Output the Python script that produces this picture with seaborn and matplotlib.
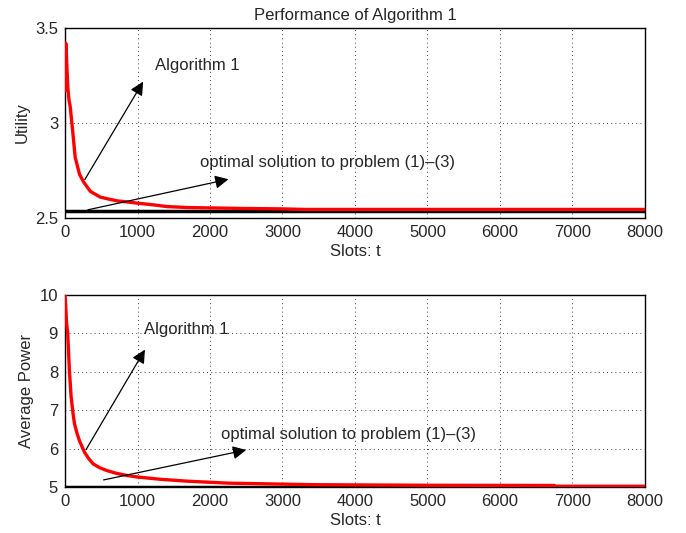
import numpy as np
import pandas as pd
import seaborn as sns
import matplotlib.pyplot as plt

# values
t_util = [0, 5, 10, 15, 25, 40, 55, 70, 100, 140, 200, 255, 350, 485, 600, 720, 850, 1000,
          1200, 1410, 1700, 2000, 2500, 3000, 3300, 4000, 5000, 6000, 7000, 8000]
utility = [3.17, 3.30, 3.42, 3.40, 3.30, 3.18, 3.12, 3.09, 2.98, 2.82, 2.73, 2.69, 2.64,
           2.61, 2.60, 2.59, 2.585, 2.578, 2.57, 2.56, 2.555, 2.553, 2.55, 2.548, 2.545,
           2.545, 2.545, 2.545, 2.545, 2.545]
opt_util = 2.535

t_pow = [0, 10, 20, 37, 60, 84, 105, 130, 165, 200, 270, 330, 390, 480, 575, 700, 855, 1000,
         1320, 1700, 2260, 3430, 5000, 6750, 6760, 8000]
power = [10.0, 9.7, 9.3, 9.0, 8.04, 7.35, 7.0, 6.65, 6.4, 6.2, 5.9, 5.73, 5.6, 5.5, 5.43,
         5.36, 5.3, 5.26, 5.2, 5.15, 5.1, 5.06, 5.045, 5.04, 5.02, 5.02]
opt_pow = 5.0

x_ticks = [0, 1000, 2000, 3000, 4000, 5000, 6000, 7000, 8000]

sns.set_style("white")
plt.rcParams['font.family'] = ['Liberation Sans', 'DejaVu Sans']
plt.rcParams['font.size'] = 12

fig = plt.figure(figsize=(6.86, 5.33), dpi=100)
ax1 = fig.add_axes([0.0948, 0.591, 0.8452, 0.3565])
ax2 = fig.add_axes([0.0948, 0.0863, 0.8452, 0.3602])

df1 = pd.DataFrame({"t": t_util, "u": utility})
df2 = pd.DataFrame({"t": t_pow, "p": power})

arrow = dict(arrowstyle='-|>', color='black', lw=0.9, mutation_scale=20)


def style(ax, yticks, ylim):
    ax.set_xlim(0, 8000)
    ax.set_ylim(*ylim)
    ax.set_xticks(x_ticks)
    ax.set_yticks(yticks)
    ax.grid(True, color='black', linestyle=(0, (1, 4)), linewidth=0.6)
    ax.tick_params(direction='in', length=4, color='black', labelsize=12, pad=5)
    for s in ax.spines.values():
        s.set_color('black')
        s.set_linewidth(1.0)
    ax.set_xlabel("Slots: t", fontsize=12, labelpad=3)


# top panel
ax1.axhline(opt_util, color='black', linewidth=2.5, zorder=2)
sns.lineplot(data=df1, x="t", y="u", ax=ax1, color='red', linewidth=2.4, zorder=3)
style(ax1, [2.5, 3, 3.5], (2.5, 3.5))
ax1.set_yticklabels(["2.5", "3", "3.5"])
ax1.set_ylabel("Utility", fontsize=12)
ax1.set_title("Performance of Algorithm 1", fontsize=12, pad=6)
ax1.annotate("", xy=(1097, 3.23), xytext=(254, 2.69), arrowprops=arrow)
ax1.text(1236, 3.30, "Algorithm 1", fontsize=12, va='center')
ax1.annotate("", xy=(2292, 2.707), xytext=(278, 2.54), arrowprops=arrow)
ax1.text(1861, 2.79, "optimal solution to problem (1)–(3)", fontsize=12, va='center')

# bottom panel
ax2.axhline(opt_pow, color='black', linewidth=2.5, zorder=2)
sns.lineplot(data=df2, x="t", y="p", ax=ax2, color='red', linewidth=2.4, zorder=3)
style(ax2, [5, 6, 7, 8, 9, 10], (5, 10))
ax2.set_ylabel("Average Power", fontsize=12)
ax2.annotate("", xy=(1122, 8.64), xytext=(270, 5.91), arrowprops=arrow)
ax2.text(1089, 9.09, "Algorithm 1", fontsize=12, va='center')
ax2.annotate("", xy=(2537, 5.98), xytext=(495, 5.17), arrowprops=arrow)
ax2.text(2150, 6.37, "optimal solution to problem (1)–(3)", fontsize=12, va='center')

fig.savefig("out.png", dpi=100)
